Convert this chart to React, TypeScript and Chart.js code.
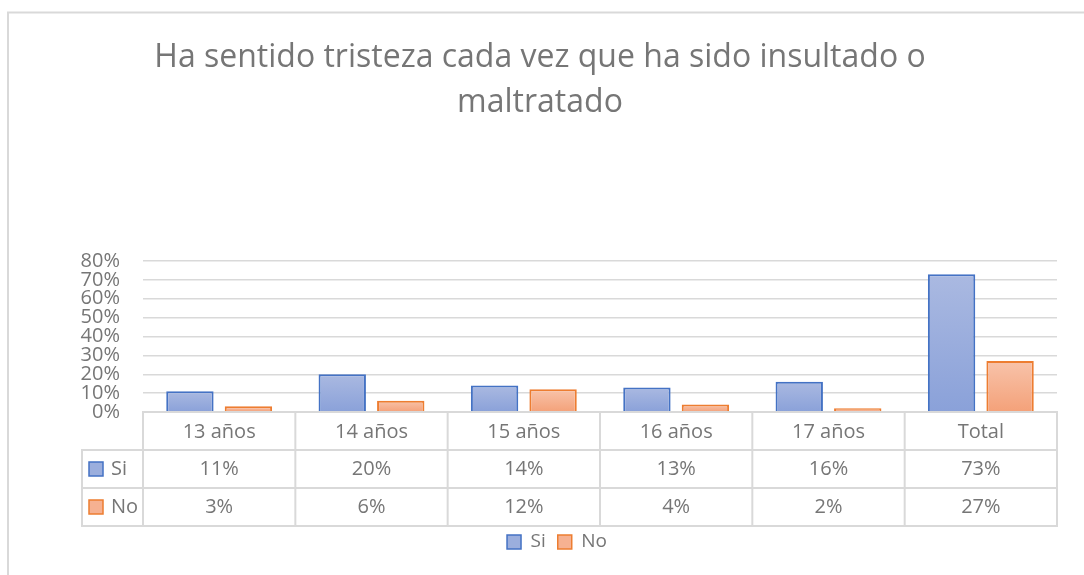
import { useEffect, useRef } from 'react';
import { Chart, registerables } from 'chart.js';

Chart.register(...registerables);

const categories = ['13 años', '14 años', '15 años', '16 años', '17 años', 'Total'];
const siValues = [11, 20, 14, 13, 16, 73];
const noValues = [3, 6, 12, 4, 2, 27];
const yTicks = [0, 10, 20, 30, 40, 50, 60, 70, 80];
const seriesNames = ['Si', 'No'];
const titleLines = ['Ha sentido tristeza cada vez que ha sido insultado o', 'maltratado'];

const FONT = '"Open Sans", "Noto Sans", sans-serif';
const TEXT = '#767676';
const GRID = '#d9d9d9';

const palette = [
  { top: '#AAB9E1', bottom: '#8AA1D9', border: '#4472C4', flat: '#9BAEDD' },
  { top: '#F8C3AA', bottom: '#F4A179', border: '#ED7D31', flat: '#F6B191' },
];

function gradientFor(i: number) {
  return (ctx: any) => {
    const chart = ctx.chart;
    const y = chart.scales && chart.scales.y;
    if (!chart.chartArea || !y || ctx.type !== 'data') return palette[i].flat;
    const top = y.getPixelForValue(ctx.raw);
    const bottom = y.getPixelForValue(0);
    if (!isFinite(top) || !isFinite(bottom) || top === bottom) return palette[i].flat;
    const g = chart.ctx.createLinearGradient(0, top, 0, bottom);
    g.addColorStop(0, palette[i].top);
    g.addColorStop(1, palette[i].bottom);
    return g;
  };
}

const framePlugin = {
  id: 'frame',
  beforeDraw(chart: any) {
    const { ctx, width, height } = chart;
    ctx.save();
    ctx.strokeStyle = GRID;
    ctx.lineWidth = 2;
    ctx.beginPath();
    ctx.moveTo(8, height);
    ctx.lineTo(8, 12.5);
    ctx.lineTo(width, 12.5);
    ctx.stroke();
    ctx.restore();
  },
};

const titlePlugin = {
  id: 'titleLines',
  afterDraw(chart: any) {
    const { ctx } = chart;
    ctx.save();
    ctx.fillStyle = TEXT;
    ctx.font = `32px ${FONT}`;
    ctx.textAlign = 'center';
    ctx.textBaseline = 'alphabetic';
    const baselines = [67, 112];
    titleLines.forEach((t, i) => ctx.fillText(t, 540, baselines[i]));
    ctx.restore();
  },
};

const tablePlugin = {
  id: 'dataTable',
  afterDraw(chart: any) {
    const { ctx, chartArea: ca } = chart;
    const n = categories.length;
    const colW = ca.width / n;
    const rowH = 38;
    const top = ca.bottom;
    const leftCol = 82;
    const rows = [siValues, noValues];
    ctx.save();
    ctx.strokeStyle = GRID;
    ctx.lineWidth = 2;
    const line = (x1: number, y1: number, x2: number, y2: number) => {
      ctx.beginPath();
      ctx.moveTo(x1, y1);
      ctx.lineTo(x2, y2);
      ctx.stroke();
    };
    line(ca.left - 1, top, ca.right + 1, top);
    for (let r = 1; r <= 3; r++) line(leftCol - 1, top + r * rowH, ca.right + 1, top + r * rowH);
    line(leftCol, top + rowH, leftCol, top + 3 * rowH);
    for (let i = 0; i <= n; i++) {
      const x = ca.left + i * colW;
      line(x, top, x, top + 3 * rowH);
    }
    ctx.fillStyle = TEXT;
    ctx.font = `20px ${FONT}`;
    ctx.textBaseline = 'middle';
    ctx.textAlign = 'center';
    categories.forEach((c, i) => {
      ctx.fillText(c, ca.left + (i + 0.5) * colW, top + rowH / 2 + 1);
    });
    rows.forEach((vals, r) => {
      const cy = top + rowH * (r + 1.5);
      vals.forEach((v, i) => {
        ctx.fillStyle = TEXT;
        ctx.textAlign = 'center';
        ctx.fillText(`${v}%`, ca.left + (i + 0.5) * colW, cy);
      });
      ctx.fillStyle = palette[r].flat;
      ctx.fillRect(89, cy - 7, 14, 14);
      ctx.strokeStyle = palette[r].border;
      ctx.lineWidth = 1.5;
      ctx.strokeRect(89, cy - 7, 14, 14);
      ctx.fillStyle = TEXT;
      ctx.textAlign = 'left';
      ctx.fillText(seriesNames[r], 111, cy);
    });
    ctx.restore();
  },
};

export default function App() {
  const ref = useRef<HTMLCanvasElement | null>(null);
  useEffect(() => {
    if (!ref.current) return;
    const chart = new Chart(ref.current, {
      type: 'bar',
      data: {
        labels: categories,
        datasets: [
          {
            label: seriesNames[0],
            data: siValues,
            backgroundColor: gradientFor(0),
            borderColor: palette[0].border,
            borderWidth: 2,
          },
          {
            label: seriesNames[1],
            data: noValues,
            backgroundColor: gradientFor(1),
            borderColor: palette[1].border,
            borderWidth: 2,
          },
        ],
      },
      options: {
        responsive: false,
        animation: false,
        events: [],
        layout: { padding: { left: 57, right: 27, top: 261, bottom: 13.5 } },
        datasets: { bar: { categoryPercentage: 0.768, barPercentage: 0.81 } },
        scales: {
          x: {
            display: true,
            grid: { display: false, drawTicks: false },
            border: { display: false },
            ticks: { display: false },
            afterFit: (s: any) => {
              s.height = 108.5;
            },
          },
          y: {
            min: 0,
            max: 80,
            afterBuildTicks: (s: any) => {
              s.ticks = yTicks.map((v) => ({ value: v }));
            },
            afterFit: (s: any) => {
              s.width = 86;
            },
            grid: { color: GRID, lineWidth: 1.5, drawTicks: false },
            border: { display: false },
            ticks: {
              autoSkip: false,
              padding: 23,
              color: TEXT,
              font: { family: FONT, size: 20 },
              callback: (v: any) => `${v}%`,
            },
          },
        },
        plugins: {
          title: { display: false },
          tooltip: { enabled: false },
          legend: {
            display: true,
            position: 'bottom',
            labels: {
              color: TEXT,
              font: { family: FONT, size: 19 },
              boxWidth: 14,
              boxHeight: 14,
              padding: 12,
              generateLabels: () =>
                seriesNames.map((name, i) => ({
                  text: name,
                  fillStyle: palette[i].flat,
                  strokeStyle: palette[i].border,
                  lineWidth: 1.5,
                  fontColor: TEXT,
                  hidden: false,
                  datasetIndex: i,
                })),
            },
          },
        },
      },
      plugins: [framePlugin, tablePlugin, titlePlugin],
    } as any);
    return () => chart.destroy();
  }, []);
  return (
    <div style={{ position: 'absolute', left: 0, top: 0, width: 1084, height: 575, background: '#fff' }}>
      <canvas ref={ref} width={1084} height={575} style={{ display: 'block' }} />
    </div>
  );
}
